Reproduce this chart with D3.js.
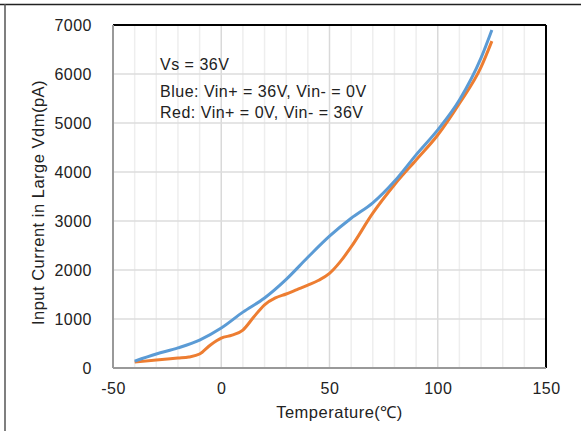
<!DOCTYPE html>
<html>
<head>
<meta charset="utf-8">
<script src="https://cdn.jsdelivr.net/npm/d3@7"></script>
<style>
  body { margin: 0; background: #fff; }
  text { font-family: "Liberation Sans", Arial, sans-serif; fill: #222; letter-spacing: 0.5px; }
</style>
</head>
<body>
<svg id="chart"></svg>
<script>
const width = 581, height = 431;
const margin = { top: 25, right: 35, bottom: 63, left: 113 };
const plotWidth = width - margin.left - margin.right;
const plotHeight = height - margin.top - margin.bottom;

// Data
const temps = [-40, -30, -20, -10, 0, 10, 20, 30, 40, 50, 60, 70, 80, 90, 100, 110, 120, 125];
const blueVals = [140, 285, 410, 570, 815, 1140, 1430, 1810, 2260, 2690, 3055, 3370, 3810, 4350, 4860, 5470, 6330, 6900];
const redTemps = [-40, -30, -20, -15, -10, -5, -2, 0, 5, 10, 15, 20, 25, 30, 35, 40, 45, 50, 55, 60, 70, 80, 90, 100, 110, 120, 125];
const redVals = [120, 165, 205, 225, 285, 470, 560, 610, 670, 775, 1040, 1290, 1430, 1510, 1600, 1690, 1790, 1930, 2170, 2470, 3160, 3740, 4245, 4755, 5400, 6140, 6670];
const xTicks = [-50, 0, 50, 100, 150];
const yTicks = [0, 1000, 2000, 3000, 4000, 5000, 6000, 7000];
const noteLines = ["Vs = 36V", "Blue: Vin+ = 36V, Vin- = 0V", "Red: Vin+ = 0V, Vin- = 36V"];

const svg = d3.select("#chart")
    .attr("width", width)
    .attr("height", height);

// outer frame (top and left only)
svg.append("line").attr("x1", 0).attr("x2", width).attr("y1", 4.5).attr("y2", 4.5)
    .attr("stroke", "#222").attr("stroke-width", 1.5);
svg.append("line").attr("x1", 5).attr("x2", 5).attr("y1", 4).attr("y2", height)
    .attr("stroke", "#555").attr("stroke-width", 1.5);

const g = svg.append("g")
    .attr("transform", `translate(${margin.left},${margin.top})`);

const xScale = d3.scaleLinear().domain([-50, 150]).range([0, plotWidth]);
const yScale = d3.scaleLinear().domain([0, 7000]).range([plotHeight, 0]);

// vertical gridlines every 10
g.append("g")
    .selectAll("line")
    .data(d3.range(-40, 150, 10))
    .enter()
    .append("line")
    .attr("x1", d => xScale(d))
    .attr("x2", d => xScale(d))
    .attr("y1", 0)
    .attr("y2", plotHeight)
    .attr("stroke", d => d % 50 === 0 ? "#d9d9d9" : "#eeeeee")
    .attr("stroke-width", 1.5);

// horizontal gridlines
g.append("g")
    .selectAll("line")
    .data(yTicks.slice(1, -1))
    .enter()
    .append("line")
    .attr("x1", 0)
    .attr("x2", plotWidth)
    .attr("y1", d => yScale(d))
    .attr("y2", d => yScale(d))
    .attr("stroke", "#dcdcdc")
    .attr("stroke-width", 1.5);

// plot frame: top/right black, left/bottom gray
g.append("line").attr("x1", 0).attr("x2", plotWidth).attr("y1", 0).attr("y2", 0)
    .attr("stroke", "#000").attr("stroke-width", 2);
g.append("line").attr("x1", plotWidth).attr("x2", plotWidth).attr("y1", 0).attr("y2", plotHeight)
    .attr("stroke", "#000").attr("stroke-width", 2);
g.append("line").attr("x1", 0).attr("x2", 0).attr("y1", 0).attr("y2", plotHeight)
    .attr("stroke", "#999").attr("stroke-width", 2);
g.append("line").attr("x1", 0).attr("x2", plotWidth).attr("y1", plotHeight).attr("y2", plotHeight)
    .attr("stroke", "#999").attr("stroke-width", 2);

// axes (labels only)
const xAxis = g.append("g")
    .attr("transform", `translate(0,${plotHeight})`)
    .call(d3.axisBottom(xScale).tickValues(xTicks).tickFormat(d => String(d)).tickSize(0).tickPadding(15));
const yAxis = g.append("g")
    .call(d3.axisLeft(yScale).tickValues(yTicks).tickFormat(d => String(d)).tickSize(0).tickPadding(21));
[xAxis, yAxis].forEach(a => {
    a.select(".domain").remove();
    a.selectAll("text")
        .attr("font-family", "Liberation Sans, Arial, sans-serif")
        .attr("font-size", 16)
        .attr("fill", "#222");
});

// series
const line = d3.line()
    .x(d => xScale(d[0]))
    .y(d => yScale(d[1]))
    .curve(d3.curveMonotoneX);

g.append("path")
    .datum(redTemps.map((t, i) => [t, redVals[i]]))
    .attr("fill", "none")
    .attr("stroke", "#ed7d31")
    .attr("stroke-width", 3)
    .attr("d", line);

g.append("path")
    .datum(temps.map((t, i) => [t, blueVals[i]]))
    .attr("fill", "none")
    .attr("stroke", "#5b9bd5")
    .attr("stroke-width", 3)
    .attr("d", line);

// annotation
g.append("g")
    .selectAll("text")
    .data(noteLines)
    .enter()
    .append("text")
    .attr("x", 47)
    .attr("y", (d, i) => i === 0 ? 45 : 72 + (i - 1) * 21)
    .attr("font-size", 16)
    .text(d => d);

// axis titles
svg.append("text")
    .attr("x", margin.left + plotWidth / 2 + 10)
    .attr("y", 418)
    .attr("text-anchor", "middle")
    .attr("font-size", 16.5)
    .text("Temperature(℃)");

svg.append("text")
    .attr("transform", `translate(44,${margin.top + plotHeight / 2 + 6}) rotate(-90)`)
    .attr("text-anchor", "middle")
    .attr("font-size", 16.5)
    .text("Input Current in Large Vdm(pA)");
</script>
</body>
</html>
